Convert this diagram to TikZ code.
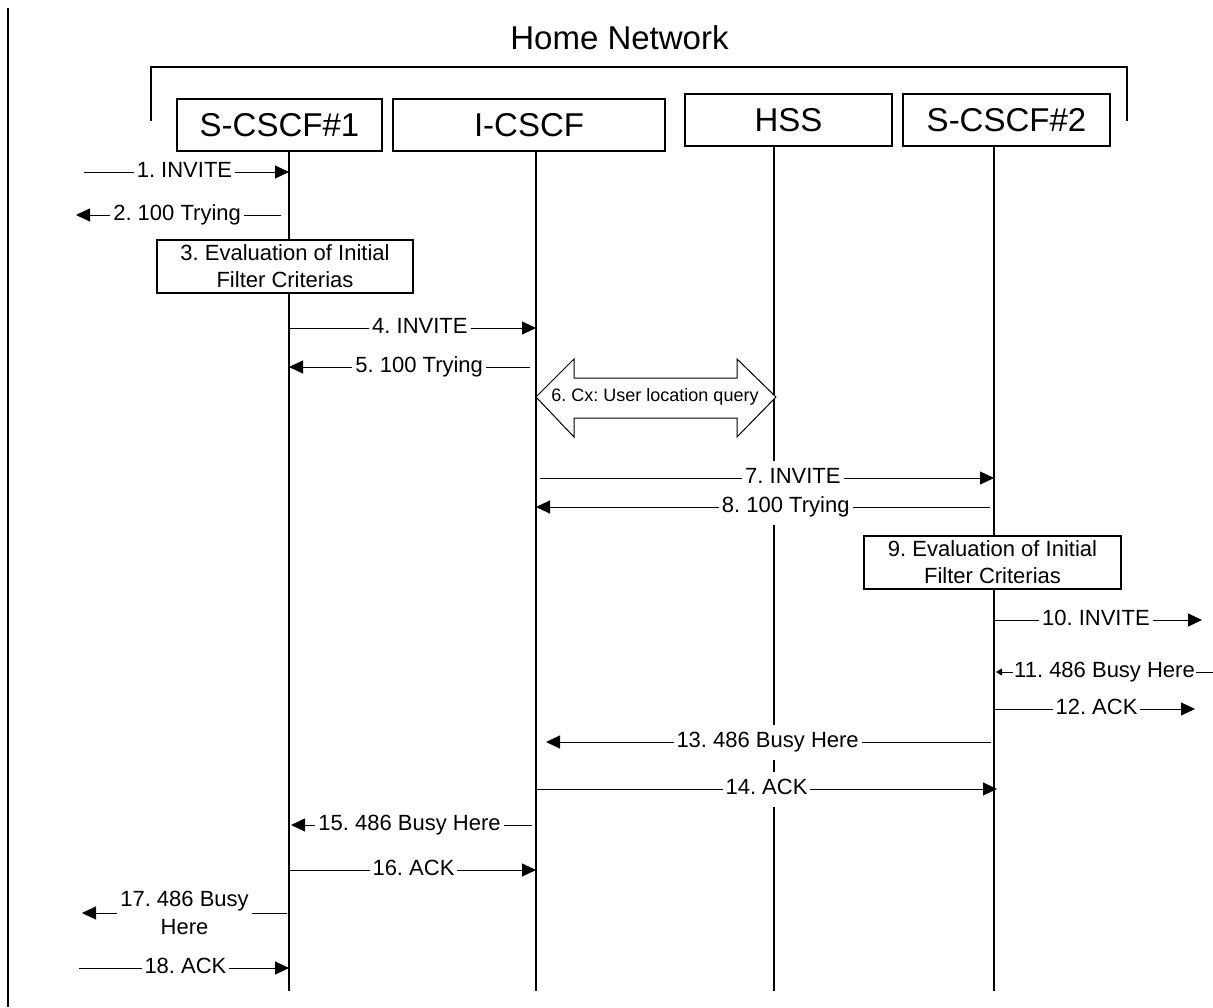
\documentclass[tikz,border=0pt]{standalone}
\usepackage{fontspec}
\setmainfont{Liberation Sans}
\usetikzlibrary{arrows.meta}
\frenchspacing
\begin{document}
\frenchspacing
\begin{tikzpicture}[x=1pt,y=-1pt,
  ent/.style={draw, line width=1.5pt, minimum height=52pt, inner sep=0pt, font=\fontsize{33}{36}\selectfont},
  evalbox/.style={draw, fill=white, line width=1.5pt, minimum height=53pt, inner sep=0pt, align=center, font=\fontsize{22}{27}\selectfont},
  life/.style={line width=1.6pt},
  msg/.style={line width=1pt, -{Triangle[length=14pt,width=13pt]}},
  smallmsg/.style={line width=1pt, -{Triangle[length=6pt,width=7pt]}},
  lbl/.style={fill=white, inner xsep=3pt, inner ysep=7pt, text height=16pt, text depth=5pt, font=\fontsize{22}{26}\selectfont},
  lbltwo/.style={fill=white, inner xsep=3pt, inner ysep=2pt, align=center, font=\fontsize{22}{28}\selectfont}]
\useasboundingbox (0,0) rectangle (1213,1007);
\fill[white] (0,0) rectangle (1213,1007);

% left border
\coordinate (bt) at (8,8); \coordinate (bb) at (8,1007);
\draw[line width=2pt] (bt) -- (bb);

% Home Network bracket
\node[font=\fontsize{33}{36}\selectfont] (hn) at (619.5,38) {Home Network};
\coordinate (brA) at (151,121); \coordinate (brB) at (151,67);
\coordinate (brC) at (1127,67); \coordinate (brD) at (1127,121);
\draw[line width=1.5pt] (brA) -- (brB) -- (brC) -- (brD);

% lifelines
\coordinate (l1t) at (289,151); \coordinate (l1b) at (289,991);
\coordinate (l2t) at (536,151); \coordinate (l2b) at (536,991);
\coordinate (l3t) at (774,146); \coordinate (l3b) at (774,991);
\coordinate (l4t) at (994,146); \coordinate (l4b) at (994,991);
\draw[life] (l1t) -- (l1b);
\draw[life] (l2t) -- (l2b);
\draw[life] (l3t) -- (l3b);
\draw[life] (l4t) -- (l4b);

% entity boxes
\node[ent, minimum width=205pt] (scscf1) at (279.5,125) {S-CSCF\#1};
\node[ent, minimum width=272pt] (icscf) at (529,125) {I-CSCF};
\node[ent, minimum width=207pt] (hss) at (788.5,120) {HSS};
\node[ent, minimum width=207pt] (scscf2) at (1006.5,120) {S-CSCF\#2};

% 1
\coordinate (m1s) at (84,172); \coordinate (m1e) at (289,172);
\draw[msg] (m1s) -- node[lbl, pos=0.49] (t1) {1. INVITE} (m1e);
% 2
\coordinate (m2s) at (281,215); \coordinate (m2e) at (76,215);
\draw[msg] (m2s) -- node[lbl, pos=0.507] (t2) {2. 100 Trying} (m2e);
% 3
\node[evalbox, minimum width=256pt] (ev1) at (285,266.5) {3. Evaluation of Initial\\Filter Criterias};
% 4
\coordinate (m4s) at (289,328); \coordinate (m4e) at (536,328);
\draw[msg] (m4s) -- node[lbl, pos=0.53] (t4) {4. INVITE} (m4e);
% 5
\coordinate (m5s) at (530,367); \coordinate (m5e) at (289,367);
\draw[msg] (m5s) -- node[lbl, pos=0.46] (t5) {5. 100 Trying} (m5e);
% 6 double arrow
\coordinate (cxL) at (536,397); \coordinate (cxR) at (776,397);
\draw[line width=1pt, fill=white] (cxL) -- ++(38,-38) -- ++(0,19) -- ++(163,0) -- ++(0,-19) -- (cxR)
   -- ++(-39,40) -- ++(0,-19) -- ++(-163,0) -- ++(0,19) -- cycle;
\node[font=\fontsize{18}{20}\selectfont] (t6) at (655,397) {6. Cx: User location query};
% 7
\coordinate (m7s) at (540,478); \coordinate (m7e) at (994,478);
\draw[msg] (m7s) -- node[lbl, pos=0.557] (t7) {7. INVITE} (m7e);
% 8
\coordinate (m8s) at (990,507); \coordinate (m8e) at (536,507);
\draw[msg] (m8s) -- node[lbl, pos=0.45] (t8) {8. 100 Trying} (m8e);
% 9
\node[evalbox, minimum width=257pt] (ev2) at (992.5,562.5) {9. Evaluation of Initial\\Filter Criterias};
% 10
\coordinate (m10s) at (994,620); \coordinate (m10e) at (1202,620);
\draw[msg] (m10s) -- node[lbl, pos=0.49] (t10) {10. INVITE} (m10e);
% 11
\coordinate (m11s) at (1213,672); \coordinate (m11e) at (996,672);
\draw[smallmsg] (m11s) -- node[lbl, inner xsep=1pt, pos=0.5] (t11) {11. 486 Busy Here} (m11e);
% 12
\coordinate (m12s) at (994,709); \coordinate (m12e) at (1195,709);
\draw[msg] (m12s) -- node[lbl, pos=0.51] (t12) {12. ACK} (m12e);
% 13
\coordinate (m13s) at (991,742); \coordinate (m13e) at (546,742);
\draw[msg] (m13s) -- node[lbl, pos=0.502] (t13) {13. 486 Busy Here} (m13e);
% 14
\coordinate (m14s) at (536,789); \coordinate (m14e) at (997,789);
\draw[msg] (m14s) -- node[lbl, pos=0.5] (t14) {14. ACK} (m14e);
% 15
\coordinate (m15s) at (532,825); \coordinate (m15e) at (291,825);
\draw[msg] (m15s) -- node[lbl, pos=0.508] (t15) {15. 486 Busy Here} (m15e);
% 16
\coordinate (m16s) at (289,870); \coordinate (m16e) at (536,870);
\draw[msg] (m16s) -- node[lbl, pos=0.504] (t16) {16. ACK} (m16e);
% 17
\coordinate (m17s) at (287,913); \coordinate (m17e) at (82,913);
\draw[msg] (m17s) -- node[lbltwo, pos=0.5] (t17) {17. 486 Busy\\Here} (m17e);
% 18
\coordinate (m18s) at (79,968); \coordinate (m18e) at (289,968);
\draw[msg] (m18s) -- node[lbl, pos=0.507] (t18) {18. ACK} (m18e);
\end{tikzpicture}
\end{document}
